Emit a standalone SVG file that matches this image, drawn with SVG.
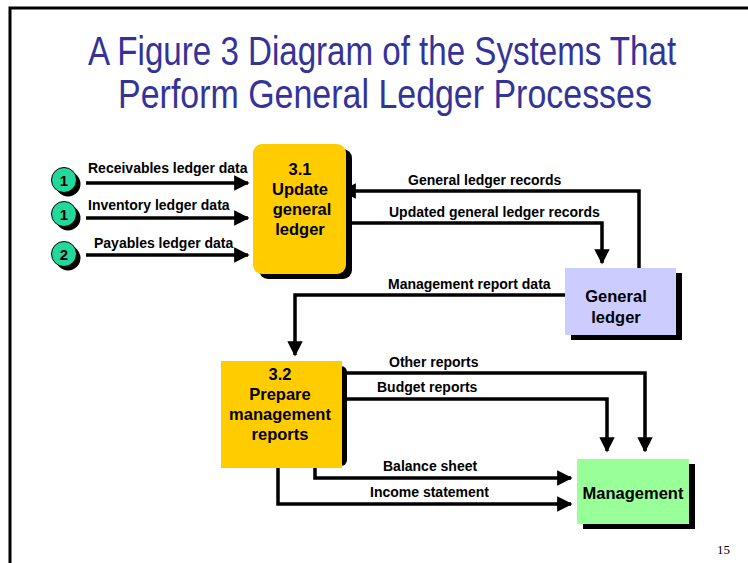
<svg xmlns="http://www.w3.org/2000/svg" width="748" height="563" viewBox="0 0 748 563">
<defs>
<style>
.t{font-family:"Liberation Sans",Arial,sans-serif;font-weight:bold;fill:#000}
.lbl{font-size:14px}
.node{font-size:16.5px;text-anchor:middle}
.ttl{font-family:"Liberation Sans",Arial,sans-serif;font-size:40px;fill:#333399;text-anchor:middle}
.ln{fill:none;stroke:#000;stroke-width:3.5}
.sh{fill:#000}
</style>
<marker id="ah" viewBox="0 0 10 10" refX="9" refY="5" markerWidth="4.4" markerHeight="4.4" markerUnits="strokeWidth" orient="auto">
<path d="M0,0 L10,5 L0,10 z" fill="#000"/>
</marker>
</defs>
<rect width="748" height="563" fill="#fff"/>
<path d="M10,563 V8 H748" fill="none" stroke="#000" stroke-width="3"/>
<text class="ttl" transform="translate(382,65) scale(0.85,1)" x="0" y="0" textLength="692" lengthAdjust="spacingAndGlyphs">A Figure 3 Diagram of the Systems That</text>
<text class="ttl" transform="translate(385,108) scale(0.85,1)" x="0" y="0" textLength="628" lengthAdjust="spacingAndGlyphs">Perform General Ledger Processes</text>

<g id="connectors">
<path class="ln" d="M86,183 H248" marker-end="url(#ah)"/>
<path class="ln" d="M86,218 H248" marker-end="url(#ah)"/>
<path class="ln" d="M86,255 H248" marker-end="url(#ah)"/>
<path class="ln" d="M639,268 V191 H342" marker-end="url(#ah)"/>
<path class="ln" d="M351,223 H602 V263" marker-end="url(#ah)"/>
<path class="ln" d="M566,295 H295 V355" marker-end="url(#ah)"/>
<path class="ln" d="M342,373 H645 V451" marker-end="url(#ah)"/>
<path class="ln" d="M347,399 H607 V451" marker-end="url(#ah)"/>
<path class="ln" d="M315,468 V478 H571" marker-end="url(#ah)"/>
<path class="ln" d="M278,468 V504 H571" marker-end="url(#ah)"/>
<text class="t lbl" x="88" y="173">Receivables ledger data</text>
<text class="t lbl" x="88" y="210">Inventory ledger data</text>
<text class="t lbl" x="94" y="248">Payables ledger data</text>
<text class="t lbl" x="408" y="185">General ledger records</text>
<text class="t lbl" x="389" y="217">Updated general ledger records</text>
<text class="t lbl" x="388" y="289">Management report data</text>
<text class="t lbl" x="389" y="367">Other reports</text>
<text class="t lbl" x="377" y="392">Budget reports</text>
<text class="t lbl" x="383" y="471">Balance sheet</text>
<text class="t lbl" x="370" y="497">Income statement</text>
</g>

<g id="src1a">
<circle class="sh" cx="68" cy="184" r="12.5"/>
<circle cx="64" cy="180" r="12.5" fill="#22d89c" stroke="#000" stroke-width="1"/>
<text class="t" x="64" y="186" font-size="15" text-anchor="middle">1</text>
</g>
<g id="src1b">
<circle class="sh" cx="68" cy="218" r="12.5"/>
<circle cx="64" cy="214" r="12.5" fill="#22d89c" stroke="#000" stroke-width="1"/>
<text class="t" x="64" y="220" font-size="15" text-anchor="middle">1</text>
</g>
<g id="src2">
<circle class="sh" cx="68" cy="258" r="12.5"/>
<circle cx="64" cy="254" r="12.5" fill="#22d89c" stroke="#000" stroke-width="1"/>
<text class="t" x="64" y="260" font-size="15" text-anchor="middle">2</text>
</g>

<g id="p31">
<rect class="sh" x="259" y="149" width="93" height="130" rx="9"/>
<rect x="253" y="144" width="93" height="130" rx="9" fill="#ffcc00"/>
<text class="t node" x="300" y="175">3.1</text>
<text class="t node" x="300" y="195">Update</text>
<text class="t node" x="302" y="215">general</text>
<text class="t node" x="300" y="235">ledger</text>
</g>

<g id="gl">
<rect class="sh" x="571" y="273" width="111" height="67"/>
<rect x="565" y="268" width="111" height="67" fill="#ccccff"/>
<text class="t node" x="616" y="302">General</text>
<text class="t node" x="616" y="323">ledger</text>
</g>

<g id="p32">
<rect class="sh" x="227" y="366" width="120" height="100" rx="6"/>
<rect x="221" y="361" width="121" height="107" fill="#ffcc00"/>
<text class="t node" x="280" y="380">3.2</text>
<text class="t node" x="280" y="400">Prepare</text>
<text class="t node" x="280" y="420">management</text>
<text class="t node" x="280" y="440">reports</text>
</g>

<g id="mgmt">
<rect class="sh" x="583" y="464" width="112" height="65"/>
<rect x="577" y="459" width="112" height="65" fill="#99ff99"/>
<text class="t node" x="633" y="499" font-size="18">Management</text>
</g>

<text x="717" y="554" font-family="Liberation Serif,serif" font-size="13">15</text>
</svg>
